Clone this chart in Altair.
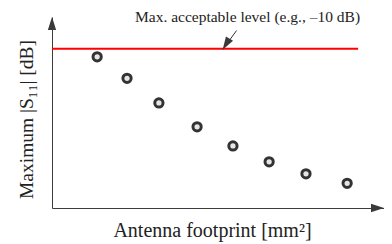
import altair as alt
import pandas as pd

# (arbitrary footprint units, |S11| in dB)
footprint = [13.6, 22.6, 32.2, 43.7, 54.5, 65.4, 76.5, 88.9]
s11_max = [-11.0, -13.7, -16.8, -19.8, -22.2, -24.2, -25.7, -26.9]

threshold = -10
threshold_x = [0, 92.2]
label_text = "Max. acceptable level (e.g., \u201310 dB)"
label_pos = [58.9, -6.6]
arrow_start = [55.6, -7.7]
arrow_tip = [51.4, -10.1]

x_dom = [0, 100]
y_dom = [-30, -6]

XT = "Antenna footprint [mm\u00b2]"
YT = "Maximum |S\u2081\u2081| [dB]"

def X(f):
    return alt.X(f, type="quantitative", scale=alt.Scale(domain=x_dom, nice=False, zero=False),
                 axis=alt.Axis(title=XT, titlePadding=12, titleFontSize=20,
                               titleX=160, titleAlign="center"))

def Y(f):
    return alt.Y(f, type="quantitative", scale=alt.Scale(domain=y_dom, nice=False, zero=False),
                 axis=alt.Axis(title=YT, titlePadding=16, titleFontSize=19.5,
                               titleY=102, titleAlign="center"))

pts = pd.DataFrame({"x": footprint, "y": s11_max})
thr = pd.DataFrame({"x": [threshold_x[0]], "x2": [threshold_x[1]], "y": [threshold]})
lab = pd.DataFrame({"x": [label_pos[0]], "y": [label_pos[1]], "t": [label_text]})
arr = pd.DataFrame({"x": [arrow_start[0]], "y": [arrow_start[1]], "x2": [arrow_tip[0]], "y2": [arrow_tip[1]]})
heads = pd.DataFrame({
    "x": [x_dom[0], x_dom[1], arrow_tip[0]],
    "y": [y_dom[1], y_dom[0], arrow_tip[1]],
    "angle": [0, 90, 211.8],
    "size": [676, 676, 676],
})

arrow_path = "M0,0 L-0.32,1 L0.32,1 Z"

red = alt.Chart(thr).mark_rule(color="#ff0000", strokeWidth=2).encode(x=X("x"), x2="x2", y=Y("y"))
circles = alt.Chart(pts).mark_point(
    shape="circle", filled=False, fill="#e6e6e6", fillOpacity=1, stroke="#333333",
    strokeWidth=3, size=68, opacity=1
).encode(x=X("x"), y=Y("y"))
ann_line = alt.Chart(arr).mark_rule(color="#333333", strokeWidth=1).encode(
    x=X("x"), y=Y("y"), x2="x2", y2="y2")
arrowheads = alt.Chart(heads).mark_point(
    shape=arrow_path, filled=True, color="#3a3a3a", opacity=1, strokeWidth=0
).encode(x=X("x"), y=Y("y"), angle=alt.Angle("angle:Q", scale=None),
         size=alt.Size("size:Q", scale=None, legend=None))
text = alt.Chart(lab).mark_text(
    font="Liberation Serif", fontSize=15.5, color="#222222", baseline="alphabetic", align="center"
).encode(x=X("x"), y=Y("y"), text="t:N")

chart = alt.layer(red, ann_line, circles, arrowheads, text).properties(
    width=332, height=191,
    padding={"left": 44, "top": 9, "right": 0, "bottom": 34},
    autosize=alt.AutoSizeParams(type="none"),
).configure_view(stroke=None).configure_axis(
    domainColor="#3c3c3c", domainWidth=1, ticks=False, labels=False, grid=False,
    titleFont="Liberation Serif", titleFontWeight="normal", titleColor="#222222",
)

chart.save("out.html", embed_options={"renderer": "svg", "actions": False})
